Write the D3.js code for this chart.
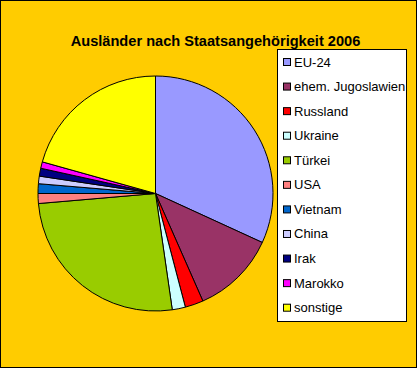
<!DOCTYPE html>
<html><head><meta charset="utf-8">
<script src="https://cdnjs.cloudflare.com/ajax/libs/d3/7.8.5/d3.min.js"></script>
<style>html,body{margin:0;padding:0;background:#fff}svg{display:block}</style>
</head><body>
<script>
const categories = ["EU-24","ehem. Jugoslawien","Russland","Ukraine","Türkei","USA","Vietnam","China","Irak","Marokko","sonstige"];
const values = [2150, 780, 170, 122, 1750, 92, 90, 70, 73, 60, 1395];
const colors = ["#9999FF","#993366","#FF0000","#CCFFFF","#99CC00","#FF8080","#0066CC","#CCCCFF","#000080","#FF00FF","#FFFF00"];
const title = "Ausländer nach Staatsangehörigkeit 2006";

const W = 417, H = 368;
const svg = d3.select("body").append("svg").attr("width", W).attr("height", H);
svg.append("rect").attr("x",0.5).attr("y",0.5).attr("width",W-1).attr("height",H-1)
  .attr("fill","#FFCC00").attr("stroke","#000");
svg.append("text").attr("x",215.5).attr("y",46).attr("text-anchor","middle")
  .attr("font-family","Arial, 'Liberation Sans', sans-serif").attr("font-weight","bold")
  .attr("font-size",14.6).text(title);

const cx = 155.5, cy = 193.5, r = 117.5;
const pie = d3.pie().value(d=>d).sort(null);
const arc = d3.arc().innerRadius(0).outerRadius(r);
const g = svg.append("g").attr("transform",`translate(${cx},${cy})`);
g.selectAll("path").data(pie(values)).join("path")
  .attr("d",arc).attr("fill",(d,i)=>colors[i]).attr("stroke","#000").attr("stroke-width",1);

// legend
const lx = 277.5, ly = 49.5, lw = 129, lh = 272;
const lg = svg.append("g");
lg.append("rect").attr("x",lx).attr("y",ly).attr("width",lw).attr("height",lh)
  .attr("fill","#fff").attr("stroke","#000");
const rowY = d3.scalePoint().domain(categories).range([62, 307.7]);
const items = lg.selectAll("g.item").data(categories).join("g").attr("class","item")
  .attr("transform",d=>`translate(0,${rowY(d)})`);
items.append("rect").attr("x",283.5).attr("y",-3.5).attr("width",7).attr("height",7)
  .attr("fill",(d,i)=>colors[i]).attr("stroke","#000");
items.append("text").attr("x",294).attr("y",4.5)
  .attr("font-family","Arial, 'Liberation Sans', sans-serif").attr("font-size",13)
  .text(d=>d);
</script>
</body></html>
